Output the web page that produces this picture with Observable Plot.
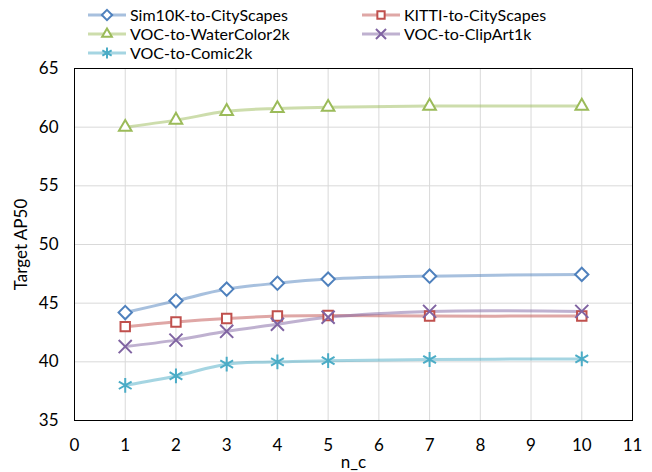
<!DOCTYPE html>
<html>
<head>
<meta charset="utf-8">
<script src="https://cdn.jsdelivr.net/npm/d3@7"></script>
<script src="https://cdn.jsdelivr.net/npm/@observablehq/plot@0.6"></script>
<style>
  body { margin: 0; background: #fff; font-family: Lato, "Open Sans", sans-serif; }
  #wrap { position: relative; width: 652px; height: 472px; }
  #chart { position: absolute; left: 0; top: 0; }
  #legend { position: absolute; left: 0; top: 0; width: 652px; height: 62px; z-index: 2; }
  .item { position: absolute; display: flex; align-items: center; font-size: 16px; color: #000; line-height: 18px; height: 18px; }
  .item svg { margin-right: 4px; }
</style>
</head>
<body>
<div id="wrap">
  <div id="chart"></div>
  <div id="legend"></div>
</div>
<script>
const nc = [1, 2, 3, 4, 5, 7, 10];
const seriesNames = ["Sim10K-to-CityScapes", "KITTI-to-CityScapes", "VOC-to-WaterColor2k", "VOC-to-ClipArt1k", "VOC-to-Comic2k"];
const sim10k = [44.2, 45.2, 46.2, 46.7, 47.05, 47.3, 47.45];
const kitti = [43.0, 43.4, 43.7, 43.9, 43.95, 43.9, 43.9];
const watercolor = [60.0, 60.6, 61.35, 61.6, 61.7, 61.8, 61.8];
const clipart = [41.3, 41.85, 42.6, 43.2, 43.8, 44.3, 44.3];
const comic = [38.0, 38.8, 39.8, 40.0, 40.1, 40.2, 40.25];
const xTicks = [0, 1, 2, 3, 4, 5, 6, 7, 8, 9, 10, 11];
const yTicks = [35, 40, 45, 50, 55, 60, 65];

const colors = ["#4F81BD", "#C0504D", "#9BBB59", "#8064A2", "#4BACC6"];
const symbols = ["diamond2", "square2", "triangle2", "times", "asterisk"];
const values = [sim10k, kitti, watercolor, clipart, comic];

const data = [];
seriesNames.forEach((s, i) => nc.forEach((x, j) => data.push({series: s, x, y: values[i][j]})));

const marks = [
  Plot.gridX(xTicks, {stroke: "#d9d9d9", strokeOpacity: 1, strokeWidth: 1}),
  Plot.gridY(yTicks, {stroke: "#d9d9d9", strokeOpacity: 1, strokeWidth: 1}),
  Plot.frame({stroke: "#000", strokeWidth: 1}),
  Plot.axisX({ticks: xTicks, tickSize: 0, tickPadding: 18, label: "n_c", labelAnchor: "center", labelArrow: "none", labelOffset: 47, fontSize: 17}),
  Plot.axisY({ticks: yTicks, tickSize: 0, tickPadding: 16, label: "Target AP50", labelAnchor: "center", labelArrow: "none", labelOffset: 60, fontSize: 17})
];
seriesNames.forEach((s, i) => {
  const d = data.filter(r => r.series === s);
  marks.push(Plot.line(d, {x: "x", y: "y", stroke: colors[i], strokeOpacity: 0.5, strokeWidth: 3, curve: "catmull-rom"}));
});
seriesNames.forEach((s, i) => {
  const d = data.filter(r => r.series === s);
  const open = i < 3;
  marks.push(Plot.dot(d, {x: "x", y: "y", symbol: () => symbols[i], r: i === 4 ? 7 : 6, stroke: colors[i], strokeWidth: 2, fill: open ? "white" : "none"}));
});

const chart = Plot.plot({
  width: 652,
  height: 472,
  marginLeft: 74,
  marginRight: 20,
  marginTop: 68,
  marginBottom: 52,
  style: {fontFamily: "Lato, 'Open Sans', sans-serif", fontSize: "17px", color: "#000", background: "#fff"},
  x: {domain: [0, 11]},
  y: {domain: [35, 65]},
  symbol: {type: "identity"},
  marks
});
document.getElementById("chart").appendChild(chart);

// legend
const legendPos = [[88, 15], [362, 15], [88, 34], [362, 34], [88, 53]];
const leg = document.getElementById("legend");
const symMap = {diamond2: d3.symbolDiamond2, square2: d3.symbolSquare2, triangle2: d3.symbolTriangle2, times: d3.symbolTimes, asterisk: d3.symbolAsterisk};
seriesNames.forEach((s, i) => {
  const div = document.createElement("div");
  div.className = "item";
  div.style.left = legendPos[i][0] + "px";
  div.style.top = (legendPos[i][1] - 9) + "px";
  const svg = d3.create("svg").attr("width", 38).attr("height", 18);
  svg.append("line").attr("x1", 0).attr("x2", 38).attr("y1", 9).attr("y2", 9)
    .attr("stroke", colors[i]).attr("stroke-opacity", 0.5).attr("stroke-width", 3);
  const sym = d3.symbol(symMap[symbols[i]], Math.PI * 36 * (i === 4 ? 1.2 : 1) * 0.6);
  svg.append("path").attr("d", sym()).attr("transform", "translate(19,9)")
    .attr("stroke", colors[i]).attr("stroke-width", 2).attr("fill", i < 3 ? "white" : "none");
  div.appendChild(svg.node());
  const span = document.createElement("span");
  span.textContent = s;
  div.appendChild(span);
  leg.appendChild(div);
});
</script>
</body>
</html>
